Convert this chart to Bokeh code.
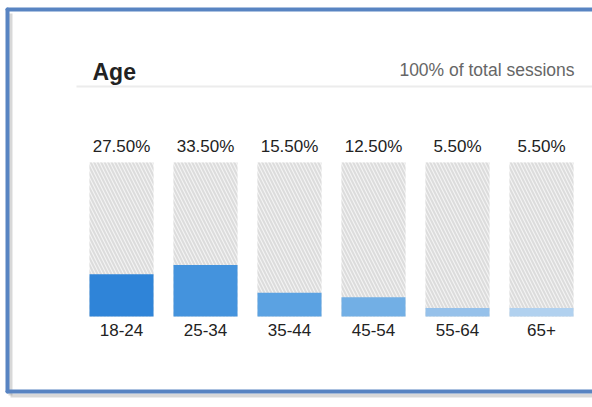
from bokeh.plotting import figure
from bokeh.models import ColumnDataSource, Range1d, Label
from bokeh.core.properties import value
from bokeh.embed import file_html
from bokeh.resources import INLINE

# Age breakdown of sessions
categories = ["18-24", "25-34", "35-44", "45-54", "55-64", "65+"]
share_pct = [27.5, 33.5, 15.5, 12.5, 5.5, 5.5]
bar_colors = ["#2f84d8", "#4493dd", "#5ba2e2", "#72afe5", "#96c1ea", "#b1d1ef"]
title_text = "Age"
subtitle_text = "100% of total sessions"

W, H = 592, 407
# layout scale: one category slot = 84 px, one percent point = 1.54 px
SLOT_PX, PCT_PX = 84.0, 1.54
X0_PX, Y0_PX = 121.0, 316.0


def dx(px):
    return (px - X0_PX) / SLOT_PX


def dy(py):
    return (Y0_PX - py) / PCT_PX


FONT = value("Liberation Sans")

p = figure(width=W, height=H, output_backend="svg", toolbar_location=None,
           x_range=Range1d(dx(0), dx(W)), y_range=Range1d(dy(H), dy(0)),
           min_border=0, outline_line_color=None, background_fill_color="white",
           border_fill_color="white")
p.axis.visible = False
p.grid.visible = False

idx = list(range(len(categories)))
src = ColumnDataSource(dict(
    x=idx,
    cat=categories,
    val=share_pct,
    full=[100.0] * len(categories),
    zero=[0.0] * len(categories),
    color=bar_colors,
    label=[f"{v:.2f}%" for v in share_pct],
))

# panel frame (open on the right, runs off the canvas) with a soft drop shadow
p.segment(x0=[dx(10), dx(10)], y0=[dy(395), dy(13)], x1=[dx(W), dx(10)], y1=[dy(395), dy(395)],
          line_color="#8f8f8f", line_alpha=0.35, line_width=4)
p.segment(x0=[dx(7), dx(7), dx(7)], y0=[dy(9), dy(391), dy(9)],
          x1=[dx(W), dx(W), dx(7)], y1=[dy(9), dy(391), dy(391)],
          line_color="#5884c2", line_width=4, line_cap="round")

# header rule
p.segment(x0=dx(76), y0=dy(86), x1=dx(W), y1=dy(86), line_color="#ececec", line_width=2)

bw = 64.0 / SLOT_PX
# hatched 100% track
p.vbar(x="x", top="full", bottom="zero", width=bw, source=src,
       fill_color="#f3f3f3", line_color=None,
       hatch_pattern="left_diagonal_line", hatch_color="#dcdcdc",
       hatch_weight=2, hatch_scale=7)
# value bars
p.vbar(x="x", top="val", bottom="zero", width=bw, source=src,
       fill_color="color", line_color=None)

# value labels above, category labels below
p.text(x="x", y=dy(146), text="label", source=src, text_align="center",
       text_baseline="alphabetic", text_font=FONT, text_font_size="17px",
       text_color="#222222")
p.text(x="x", y=dy(329), text="cat", source=src, text_align="center",
       text_baseline="alphabetic", text_font=FONT, text_font_size="17px",
       text_color="#222222")

p.add_layout(Label(x=dx(92), y=dy(71), text=title_text, text_font="Liberation Sans",
                   text_font_size="23px", text_font_style="bold", text_color="#222222",
                   text_baseline="alphabetic"))
p.add_layout(Label(x=dx(574), y=dy(69), text=subtitle_text, text_font="Liberation Sans",
                   text_font_size="17.5px", text_color="#666666", text_align="right",
                   text_baseline="alphabetic"))

open("out.html", "w").write(file_html(p, INLINE))
